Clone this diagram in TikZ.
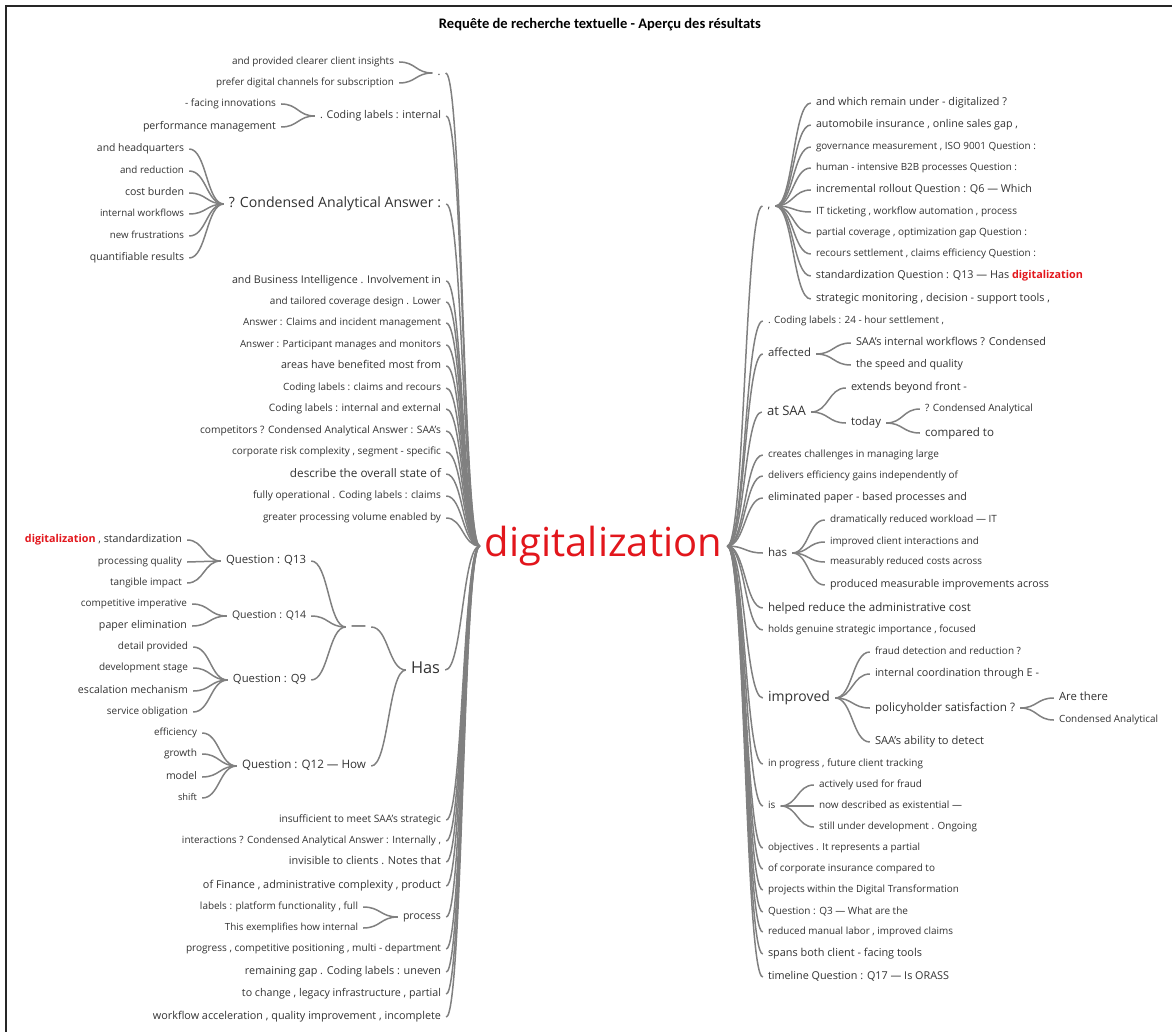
\documentclass[tikz,border=0pt]{standalone}
\usepackage{fontspec}
\setmainfont{Open Sans}
\newfontfamily\titlefont{Carlito}
\usepackage{graphicx}
\usetikzlibrary{calc}
\definecolor{txt}{RGB}{50,50,50}
\definecolor{hl}{RGB}{226,22,28}
\definecolor{lnk}{RGB}{128,128,128}
\tikzset{
  lbl/.style={inner xsep=5pt, inner ysep=0pt, text=txt, font=\fontsize{10}{12}\selectfont},
  link/.style={draw=lnk, line width=1.5pt}
}
\newcommand\hd{{\bfseries\color{hl}digitalization}}
\newcommand\wn[5]{%
  \pgfmathsetmacro\wnw{#3-#2}%
  \node[lbl] (#1) at ({(#2+#3)/2},#4) {\resizebox{\wnw pt}{!}{\vphantom{Ag}#5}};}
\newcommand\lk[2]{\draw[link] let \p1=(#1.east), \p2=(#2.west), \p3=($(\p1)!0.5!(\p2)$) in (\p1) .. controls (\x3,\y1) and (\x3,\y2) .. (\p2);}
\begin{document}
\begin{tikzpicture}[x=1pt,y=-1pt]
\useasboundingbox (0,0) rectangle (1172,1032);
\draw[line width=1.6pt, black!85] (6,1032) -- (6,6) -- (1172,6);
\node[inner sep=0pt] (title) at (600,25) {\resizebox{322pt}{!}{\titlefont\bfseries Requête de recherche textuelle - Aperçu des résultats}};
% root
\node[lbl,text=hl] (root) at (603.5,546) {\resizebox{237pt}{!}{\vphantom{Ag}digitalization}};
% ---------- left side
\node[lbl,font=\fontsize{11}{13}\selectfont] (l1) at (439,73) {\vphantom{Ag}.};
\wn{l1a}{232}{394}{62}{and provided clearer client insights}
\wn{l1b}{216}{394}{83}{prefer digital channels for subscription}
\wn{l2}{320}{441}{116}{. Coding labels : internal}
\wn{l2a}{185}{276}{104}{- facing innovations}
\wn{l2b}{143}{276}{127}{performance management}
\wn{l3}{229}{441}{204}{? Condensed Analytical Answer :}
\wn{l3a}{97}{184}{149}{and headquarters}
\wn{l3b}{120}{184}{171}{and reduction}
\wn{l3c}{125}{184}{193}{cost burden}
\wn{l3d}{100}{184}{214}{internal workflows}
\wn{l3e}{110}{184}{236}{new frustrations}
\wn{l3f}{90}{184}{258}{quantifiable results}
\wn{l4}{232}{441}{281}{and Business Intelligence . Involvement in}
\wn{l5}{270}{441}{302}{and tailored coverage design . Lower}
\wn{l6}{243}{441}{323}{Answer : Claims and incident management}
\wn{l7}{240}{441}{345}{Answer : Participant manages and monitors}
\wn{l8}{281}{441}{366}{areas have benefited most from}
\wn{l9}{283}{441}{388}{Coding labels : claims and recours}
\wn{l10}{269}{441}{409}{Coding labels : internal and external}
\wn{l11}{200}{441}{431}{competitors ? Condensed Analytical Answer : SAA's}
\wn{l12}{232}{441}{452}{corporate risk complexity , segment - specific}
\wn{l13}{290}{441}{474}{describe the overall state of}
\wn{l14}{253}{441}{496}{fully operational . Coding labels : claims}
\wn{l15}{263}{441}{518}{greater processing volume enabled by}
\wn{has}{411}{440}{670}{Has}
\wn{dash}{351}{366}{627}{—}
\wn{q13}{226}{306}{561}{Question : Q13}
\wn{q13a}{25}{182}{540}{\hd\ , standardization}
\wn{q13b}{98}{182}{562}{processing quality}
\wn{q13c}{110}{182}{583}{tangible impact}
\wn{q14}{232}{306}{616}{Question : Q14}
\wn{q14a}{81}{187}{604}{competitive imperative}
\wn{q14b}{99}{187}{626}{paper elimination}
\wn{q9}{233}{306}{680}{Question : Q9}
\wn{q9a}{118}{188}{647}{detail provided}
\wn{q9b}{99}{188}{668}{development stage}
\wn{q9c}{78}{188}{691}{escalation mechanism}
\wn{q9d}{107}{188}{712}{service obligation}
\wn{q12}{242}{366}{766}{Question : Q12 — How}
\wn{q12a}{154}{197}{733}{efficiency}
\wn{q12b}{164}{197}{754}{growth}
\wn{q12c}{166}{197}{777}{model}
\wn{q12d}{178}{197}{798}{shift}
\wn{l17}{279}{441}{820}{insufficient to meet SAA's strategic}
\wn{l18}{182}{441}{841}{interactions ? Condensed Analytical Answer : Internally ,}
\wn{l19}{289}{441}{862}{invisible to clients . Notes that}
\wn{l20}{203}{441}{886}{of Finance , administrative complexity , product}
\wn{l21}{403}{441}{917}{process}
\wn{p1}{200}{358}{907}{labels : platform functionality , full}
\wn{p2}{225}{358}{928}{This exemplifies how internal}
\wn{l22}{186}{441}{949}{progress , competitive positioning , multi - department}
\wn{l23}{245}{441}{972}{remaining gap . Coding labels : uneven}
\wn{l24}{242}{441}{994}{to change , legacy infrastructure , partial}
\wn{l25}{153}{441}{1017}{workflow acceleration , quality improvement , incomplete}
% ---------- right side
\node[lbl,font=\fontsize{11}{13}\selectfont] (r1) at (769,206) {\vphantom{Ag},};
\wn{r1a}{816}{1007}{103}{and which remain under - digitalized ?}
\wn{r1b}{816}{1018}{125}{automobile insurance , online sales gap ,}
\wn{r1c}{816}{1036}{147}{governance measurement , ISO 9001 Question :}
\wn{r1d}{816}{1017}{168}{human - intensive B2B processes Question :}
\wn{r1e}{816}{1032}{190}{incremental rollout Question : Q6 — Which}
\wn{r1f}{816}{1017}{212}{IT ticketing , workflow automation , process}
\wn{r1g}{816}{1027}{233}{partial coverage , optimization gap Question :}
\wn{r1h}{816}{1036}{254}{recours settlement , claims efficiency Question :}
\wn{r1i}{816}{1083}{276}{standardization Question : Q13 — Has \hd}
\wn{r1j}{816}{1050}{299}{strategic monitoring , decision - support tools ,}
\wn{r2}{768}{944}{321}{. Coding labels : 24 - hour settlement ,}
\wn{r3}{768}{811}{354}{affected}
\wn{r3a}{856}{1046}{343}{SAA's internal workflows ? Condensed}
\wn{r3b}{856}{963}{365}{the speed and quality}
\wn{r4}{767}{806}{412}{at SAA}
\wn{r4a}{851}{967}{388}{extends beyond front -}
\wn{r4b}{851}{881}{423}{today}
\wn{r4b1}{925}{1033}{409}{? Condensed Analytical}
\wn{r4b2}{925}{994}{433}{compared to}
\wn{r5}{768}{939}{455}{creates challenges in managing large}
\wn{r6}{768}{958}{476}{delivers efficiency gains independently of}
\wn{r7}{768}{967}{498}{eliminated paper - based processes and}
\wn{r8}{768}{787}{553}{has}
\wn{r8a}{830}{997}{520}{dramatically reduced workload — IT}
\wn{r8b}{830}{979}{542}{improved client interactions and}
\wn{r8c}{830}{982}{562}{measurably reduced costs across}
\wn{r8d}{830}{1049}{585}{produced measurable improvements across}
\wn{r9}{768}{971}{608}{helped reduce the administrative cost}
\wn{r10}{768}{976}{630}{holds genuine strategic importance , focused}
\wn{r11}{768}{830}{698}{improved}
\wn{r11a}{875}{1021}{652}{fraud detection and reduction ?}
\wn{r11b}{875}{1039}{674}{internal coordination through E -}
\wn{r11c}{875}{1015}{708}{policyholder satisfaction ?}
\wn{r11c1}{1059}{1108}{698}{Are there}
\wn{r11c2}{1059}{1158}{720}{Condensed Analytical}
\wn{r11d}{875}{984}{742}{SAA's ability to detect}
\wn{r12}{768}{923}{764}{in progress , future client tracking}
\node[lbl,font=\fontsize{10}{12}\selectfont,anchor=west] (r13) at (763,806) {\vphantom{Ag}is};
\wn{r13a}{819}{922}{785}{actively used for fraud}
\wn{r13b}{819}{962}{806}{now described as existential —}
\wn{r13c}{819}{977}{827}{still under development . Ongoing}
\wn{r14}{768}{920}{848}{objectives . It represents a partial}
\wn{r15}{768}{935}{869}{of corporate insurance compared to}
\wn{r16}{768}{959}{890}{projects within the Digital Transformation}
\wn{r17}{768}{908}{912}{Question : Q3 — What are the}
\wn{r18}{768}{953}{932}{reduced manual labor , improved claims}
\wn{r19}{768}{922}{954}{spans both client - facing tools}
\wn{r20}{768}{949}{977}{timeline Question : Q17 — Is ORASS}
% ---------- links: left (child -> parent)
\foreach \ch/\pa in {l1a/l1,l1b/l1,l2a/l2,l2b/l2,l3a/l3,l3b/l3,l3c/l3,l3d/l3,l3e/l3,l3f/l3,
  q13a/q13,q13b/q13,q13c/q13,q14a/q14,q14b/q14,q9a/q9,q9b/q9,q9c/q9,q9d/q9,
  q13/dash,q14/dash,q9/dash,dash/has,q12/has,q12a/q12,q12b/q12,q12c/q12,q12d/q12,
  p1/l21,p2/l21,
  l1/root,l2/root,l3/root,l4/root,l5/root,l6/root,l7/root,l8/root,l9/root,l10/root,
  l11/root,l12/root,l13/root,l14/root,l15/root,has/root,l17/root,l18/root,l19/root,
  l20/root,l21/root,l22/root,l23/root,l24/root,l25/root}{\lk{\ch}{\pa}}
% ---------- links: right (parent -> child)
\foreach \pa/\ch in {root/r1,root/r2,root/r3,root/r4,root/r5,root/r6,root/r7,root/r8,root/r9,
  root/r10,root/r11,root/r12,root/r13,root/r14,root/r15,root/r16,root/r17,root/r18,
  root/r19,root/r20,
  r1/r1a,r1/r1b,r1/r1c,r1/r1d,r1/r1e,r1/r1f,r1/r1g,r1/r1h,r1/r1i,r1/r1j,
  r3/r3a,r3/r3b,r4/r4a,r4/r4b,r4b/r4b1,r4b/r4b2,
  r8/r8a,r8/r8b,r8/r8c,r8/r8d,r11/r11a,r11/r11b,r11/r11c,r11/r11d,
  r11c/r11c1,r11c/r11c2,r13/r13a,r13/r13b,r13/r13c}{\lk{\pa}{\ch}}
\end{tikzpicture}
\end{document}
